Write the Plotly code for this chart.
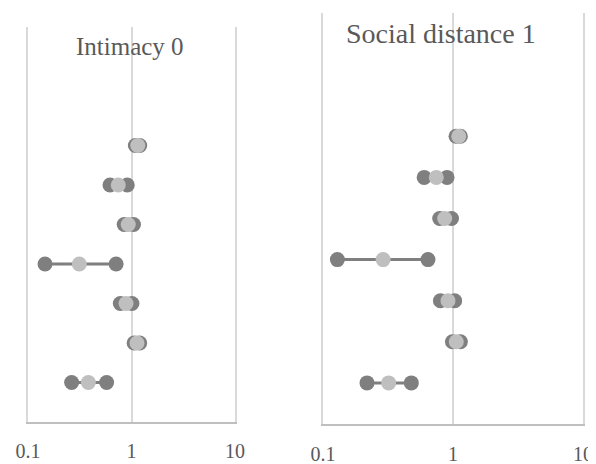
import plotly.graph_objects as go

rows = [7, 6, 5, 4, 3, 2, 1]

# Intimacy 0 panel
int_lower = [1.09, 0.62, 0.85, 0.146, 0.78, 1.06, 0.264]
int_est = [1.15, 0.745, 0.93, 0.313, 0.885, 1.13, 0.383]
int_upper = [1.20, 0.91, 1.045, 0.71, 1.01, 1.20, 0.575]

# Social distance 1 panel
soc_lower = [1.055, 0.60, 0.79, 0.129, 0.80, 0.99, 0.218]
soc_est = [1.107, 0.744, 0.863, 0.29, 0.915, 1.06, 0.32]
soc_upper = [1.14, 0.90, 0.974, 0.642, 1.03, 1.14, 0.478]

tick_vals = [0.1, 1, 10]
tick_text = ["0.1", "1", "10"]
titles = ["Intimacy 0", "Social distance 1"]

DARK = "#7f7f7f"
LIGHT = "#bfbfbf"
GRID = "#d9d9d9"
FONT = "Liberation Serif"

fig = go.Figure()


def add_panel(lo, est, hi, xa, ya):
    xs, ys = [], []
    for l, h, r in zip(lo, hi, rows):
        xs += [l, h, None]
        ys += [r, r, None]
    fig.add_trace(go.Scatter(x=xs, y=ys, mode="lines+markers", xaxis=xa, yaxis=ya,
                             line=dict(color=DARK, width=3),
                             marker=dict(color=DARK, size=15), showlegend=False))
    fig.add_trace(go.Scatter(x=est, y=rows, mode="markers", xaxis=xa, yaxis=ya,
                             marker=dict(color=LIGHT, size=15), showlegend=False))


add_panel(int_lower, int_est, int_upper, "x", "y")
add_panel(soc_lower, soc_est, soc_upper, "x2", "y2")

# page body has an 8px margin, so the figure is drawn 8px smaller and offset
OFF = 8
W, H = 596 - OFF, 464 - OFF


def px_x(p):
    return (p - OFF) / W


def px_y(p):
    return 1 - (p - OFF) / H


xaxis_common = dict(type="log", range=[-1, 1], tickvals=tick_vals, ticktext=tick_text,
                    showgrid=True, gridcolor=GRID, gridwidth=1.5, showline=True,
                    linecolor="#bfbfbf", linewidth=1.5, ticks="", zeroline=False,
                    automargin=False,
                    tickfont=dict(family=FONT, size=20, color="#595959"))
yaxis_common = dict(range=[0, 10], showticklabels=False, showgrid=False, zeroline=False,
                    showline=True, mirror=True, linecolor=GRID, linewidth=1.5,
                    ticks="", automargin=False)

fig.update_layout(
    width=W, height=H, margin=dict(l=0, r=0, t=0, b=0, autoexpand=False),
    paper_bgcolor="white", plot_bgcolor="white",
    xaxis=dict(domain=[px_x(28), px_x(235)], anchor="y", ticklabelstandoff=10, **xaxis_common),
    yaxis=dict(domain=[px_y(422), px_y(27)], anchor="x", **yaxis_common),
    xaxis2=dict(domain=[px_x(323), px_x(583)], anchor="y2", ticklabelstandoff=11, **xaxis_common),
    yaxis2=dict(domain=[px_y(424), px_y(13)], anchor="x2", **yaxis_common),
    annotations=[
        dict(text=titles[0], x=px_x(130), y=px_y(47), xref="paper", yref="paper",
             xanchor="center", yanchor="middle",
             showarrow=False, font=dict(family=FONT, size=25, color="#595959")),
        dict(text=titles[1], x=px_x(441), y=px_y(34), xref="paper", yref="paper",
             xanchor="center", yanchor="middle",
             showarrow=False, font=dict(family=FONT, size=28, color="#595959")),
    ],
)

fig.write_html("out.html")
